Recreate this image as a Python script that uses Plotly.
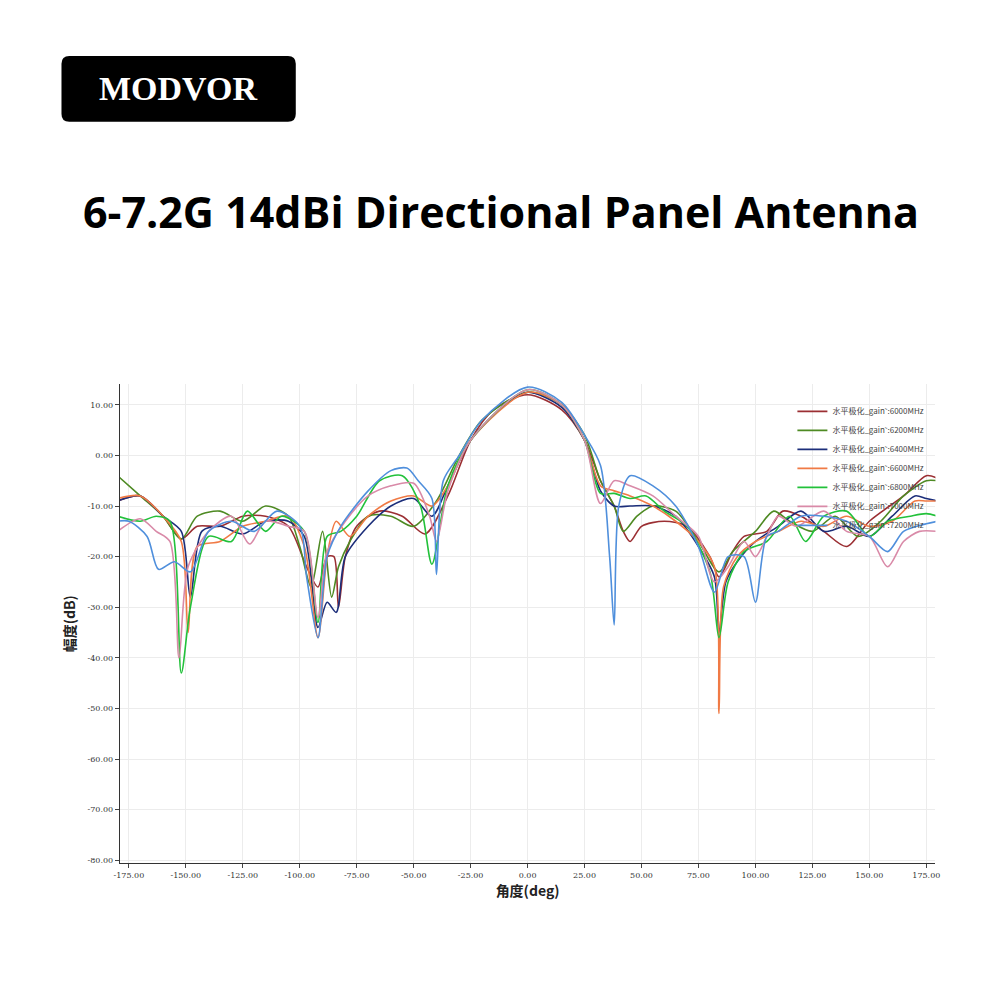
import plotly.graph_objects as go

names = ["水平极化_gain˜:6000MHz","水平极化_gain˜:6200MHz","水平极化_gain˜:6400MHz",
         "水平极化_gain˜:6600MHz","水平极化_gain˜:6800MHz","水平极化_gain˜:7000MHz","水平极化_gain˜:7200MHz"]
colors = ["#9b2f33","#4e8a23","#1c2e7a","#f07a45","#22c13a","#d98aa8","#4f8fdc"]

a6000 = [-180,-170,-160,-152,-145,-135,-125,-115,-105,-97,-92,-88,-85,-83,-80,-75,-65,-55,-45,-35,-25,-15,0,15,25,32,38,42,45,50,60,70,80,84,90,95,105,112,120,130,140,150,165,175,180]
v6000 = [-9,-8,-12,-16.5,-14,-14,-12,-12,-14,-22,-26,-20,-20,-30,-20,-14,-11,-12,-15.5,-8,3,9,12,9,3,-5,-10,-15,-17,-14,-13,-14,-20,-24,-19,-16,-15,-11,-12,-15,-18,-13,-8,-4,-4.5]
a6200 = [-180,-170,-160,-152,-145,-135,-125,-115,-105,-100,-95,-90,-86,-83,-78,-70,-60,-50,-40,-30,-20,0,15,25,32,38,42,48,55,65,75,84,90,100,108,115,125,135,145,155,165,175,180]
v6200 = [-4,-8,-12,-16.5,-12,-11,-13,-10,-12,-18,-26,-15,-28,-22,-17,-12,-12,-14,-9,0,7,12.5,10,4,-5,-10,-15,-12,-10,-11,-17,-23,-19,-15,-11,-13,-15,-12,-16,-13,-8,-5,-5]
a6400 = [-180,-170,-160,-152,-148,-143,-135,-125,-115,-105,-98,-92,-88,-84,-80,-70,-60,-50,-42,-35,-25,-10,0,15,25,32,38,45,55,65,75,82,84,87,92,100,110,120,130,140,150,160,170,175,180]
v6400 = [-9,-8,-12,-15,-28,-15,-14,-15.5,-13,-13,-16,-34,-29,-31,-20,-14,-10,-8.5,-12,-6,3,10,12.5,9.5,3,-7,-10,-10,-10,-12,-18,-24,-35,-25,-21,-17,-14,-11,-15,-14,-16,-12,-8,-8.5,-9]
a6600 = [-180,-170,-160,-152,-149,-145,-135,-125,-115,-105,-98,-92,-88,-84,-78,-70,-60,-50,-42,-35,-25,0,15,25,32,38,45,55,65,75,82,84,86,92,100,110,120,130,140,150,160,170,175,180]
v6600 = [-8.5,-8,-12,-17,-35,-18,-17,-14,-13,-12,-18,-36,-20,-13,-16,-12,-9,-8,-10,-6,3,12.5,10,3,-6,-7,-8,-10,-13,-17,-22,-51,-26,-20,-17,-15,-13,-14,-12,-14,-13,-9,-9,-9]
a6800 = [-180,-170,-163,-157,-152,-148,-140,-130,-123,-115,-108,-98,-92,-88,-82,-75,-65,-55,-47,-42,-35,-25,0,15,25,32,38,45,52,60,70,80,84,88,95,105,115,122,130,140,150,158,168,175,180]
v6800 = [-12,-13,-12,-13,-43,-30,-16,-17,-11,-15,-12,-15,-33,-16,-15,-12,-5,-4,-10,-21.5,-6,3,13,10,3,-7.5,-7.5,-8.5,-8,-11,-14,-23,-36,-25,-19,-17,-12,-17,-12,-11,-16,-13,-12,-11.5,-12]
a7000 = [-180,-170,-163,-157,-153,-149,-140,-130,-122,-115,-105,-98,-92,-88,-80,-70,-60,-50,-43,-40,-35,-25,0,15,25,32,38,45,55,65,75,82,88,95,100,105,110,118,130,140,150,158,165,172,180]
v7000 = [-15,-12.5,-15,-17,-40,-22,-15,-12,-17.5,-13,-14,-15,-32,-19,-13,-8,-6,-5.5,-12,-17,-7,3,13,10,3,-9.5,-5,-6,-8,-12,-16,-25,-22,-17,-20,-16,-12,-14,-11,-15,-16,-22,-17,-15,-15]
a7200 = [-180,-175,-167,-162,-155,-148,-140,-130,-120,-110,-100,-97,-92,-88,-82,-70,-60,-53,-48,-42,-40,-37,-30,-20,0,15,25,32,36,38,40,45,55,65,75,82,88,95,100,105,110,120,130,140,150,158,165,175,180]
v7200 = [-13,-13,-16,-22.5,-21,-23,-15,-13,-15,-11,-14,-24,-36,-20,-14,-7,-3,-2.5,-5,-8.5,-23.5,-5,0,7,13.5,10.5,4,-2,-20,-33.5,-10,-4,-6,-10,-18,-27,-20,-20,-29,-16,-15,-12,-12,-13,-16,-19,-15,-13.5,-13]

xs = [a6000,a6200,a6400,a6600,a6800,a7000,a7200]
ys = [v6000,v6200,v6400,v6600,v6800,v7000,v7200]

tickvals_x = list(range(-175, 176, 25))
tickvals_y = list(range(-80, 11, 10))

fig = go.Figure()
for n, c, x, y in zip(names, colors, xs, ys):
    fig.add_trace(go.Scatter(x=x, y=y, name=n, mode="lines",
                             line=dict(color=c, width=1.6, shape="spline", smoothing=0.8)))

tf = dict(family="DejaVu Serif", size=8, color="#333")
fig.update_layout(
    width=984, height=984, paper_bgcolor="white", plot_bgcolor="white",
    margin=dict(l=0, r=0, t=0, b=0),
    xaxis=dict(domain=[0.1087, 0.947], range=[-179, 179], tickvals=tickvals_x,
               ticktext=[f"{v:.2f}" for v in tickvals_x], showgrid=True, gridcolor="#ececec",
               zeroline=False, showline=True, linecolor="#333", ticks="outside", ticklen=4,
               tickfont=tf,
               title=dict(text="<b>角度(deg)</b>", font=dict(family="Noto Sans CJK SC", size=14, color="#222"), standoff=2)),
    yaxis=dict(domain=[0.129, 0.617], range=[-80.6, 14.1], tickvals=tickvals_y,
               ticktext=[f"{v:.2f}" for v in tickvals_y], showgrid=True, gridcolor="#ececec",
               zeroline=False, showline=True, linecolor="#333", ticks="outside", ticklen=4,
               tickfont=tf,
               title=dict(text="<b>幅度(dB)</b>", font=dict(family="Noto Sans CJK SC", size=14, color="#222"), standoff=8)),
    legend=dict(x=0.80, y=0.604, xanchor="left", yanchor="top", bgcolor="rgba(255,255,255,0)",
                font=dict(family="Noto Sans CJK SC", size=8, color="#444"), tracegroupgap=0, itemwidth=30),
    showlegend=True,
)
x0, x1, y0, y1, r = 0.0488, 0.2896, 0.8841, 0.9512, 0.008
path = (f"M {x0+r},{y0} L {x1-r},{y0} Q {x1},{y0} {x1},{y0+r} L {x1},{y1-r} Q {x1},{y1} {x1-r},{y1} "
        f"L {x0+r},{y1} Q {x0},{y1} {x0},{y1-r} L {x0},{y0+r} Q {x0},{y0} {x0+r},{y0} Z")
fig.add_shape(type="path", xref="paper", yref="paper", path=path,
              fillcolor="black", line=dict(color="black", width=0), layer="below")
fig.add_annotation(xref="paper", yref="paper", x=0.1687, y=0.9177, xanchor="center", yanchor="middle",
                   text="<b>MODVOR</b>", showarrow=False,
                   font=dict(family="Liberation Serif", size=34, color="white"))
fig.add_annotation(xref="paper", yref="paper", x=0.5, y=0.7927, xanchor="center", yanchor="middle",
                   text="<b>6-7.2G 14dBi Directional Panel Antenna</b>",
                   showarrow=False, font=dict(family="Open Sans", size=43, color="black"))
fig.write_html("out.html")
